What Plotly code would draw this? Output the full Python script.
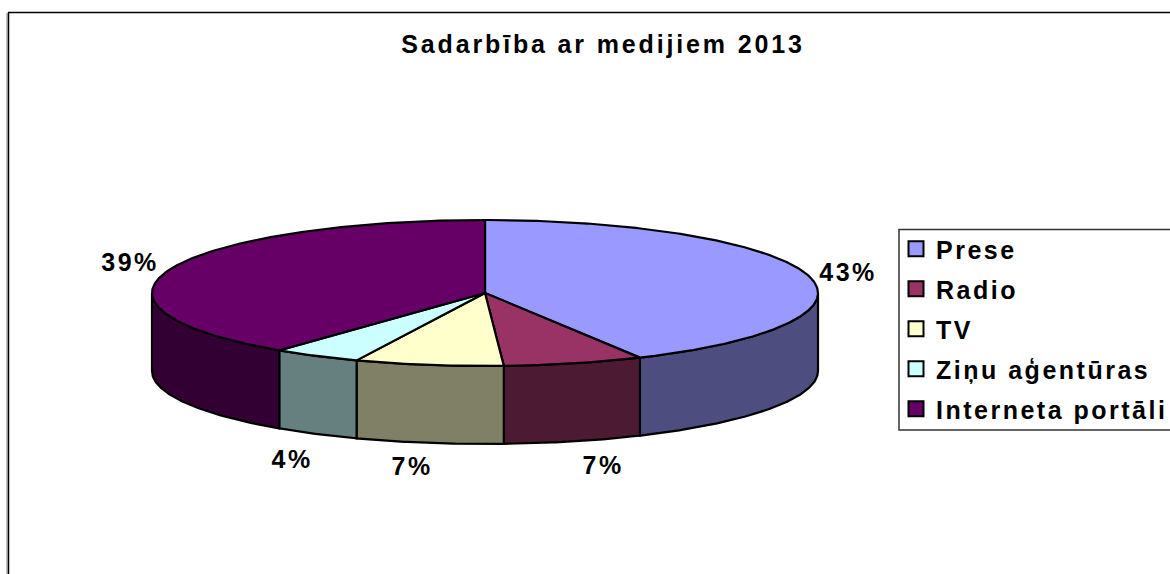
import numpy as np
import plotly.graph_objects as go

categories = ["Prese", "Radio", "TV", "Ziņu aģentūras", "Interneta portāli"]
shares = [42.3, 6.8, 7.2, 4.3, 39.4]
labels = ["43%", "7%", "7%", "4%", "39%"]
top_colors = ["#9999FF", "#993366", "#FFFFCC", "#CCFFFF", "#660066"]
side_colors = ["#4D4D80", "#4D1A33", "#808066", "#668080", "#330033"]
label_pos = [(848, 272), (603, 465), (412, 466), (292, 459), (130, 262)]
title = "Sadarbība ar medijiem 2013"

CX, CY, RX, RY, DEPTH = 485, 293, 333, 73, 78
FONT = "Liberation Sans, Arial, sans-serif"
W, H = 1170, 574


def rim(t0, t1, dy=0):
    t = np.radians(np.linspace(t0, t1, max(int(abs(t1 - t0)) * 2 + 2, 2)))
    return CX + RX * np.sin(t), CY + dy - RY * np.cos(t)


fig = go.Figure()
edges = np.concatenate([[0], np.cumsum(shares)]) / sum(shares) * 360

# side walls (only the front half of the rim is visible)
for i in range(len(categories)):
    a, b = max(edges[i], 90), min(edges[i + 1], 270)
    if b <= a:
        continue
    x0, y0 = rim(a, b)
    x1, y1 = rim(b, a, DEPTH)
    fig.add_trace(go.Scatter(
        x=np.r_[x0, x1, x0[0]], y=np.r_[y0, y1, y0[0]], mode="lines", fill="toself",
        fillcolor=side_colors[i], line=dict(color="black", width=2.2),
        showlegend=False, hoverinfo="skip"))

# top wedges
for i in range(len(categories)):
    x0, y0 = rim(edges[i], edges[i + 1])
    fig.add_trace(go.Scatter(
        x=np.r_[CX, x0, CX], y=np.r_[CY, y0, CY], mode="lines", fill="toself",
        fillcolor=top_colors[i], line=dict(color="black", width=2.2),
        showlegend=False, hoverinfo="skip"))

# legend entries
for i, name in enumerate(categories):
    fig.add_trace(go.Scatter(
        x=[None], y=[None], mode="markers", name=name, legendgroup=name,
        marker=dict(symbol="square", size=15, color=top_colors[i],
                    line=dict(color="black", width=2))))

for text, (x, y) in zip(labels, label_pos):
    fig.add_annotation(x=x, y=y, text=f"<b>{text}</b>", showarrow=False,
                       font=dict(family=FONT, size=25, color="black"))

fig.update_layout(
    width=W, height=H, margin=dict(l=0, r=0, t=0, b=0),
    paper_bgcolor="white", plot_bgcolor="white",
    title=dict(text=f"<b>{title}</b>", x=603 / W, y=1 - 44 / H, xanchor="center",
               yanchor="middle", font=dict(family=FONT, size=25, color="black")),
    xaxis=dict(range=[0, W], visible=False, fixedrange=True),
    yaxis=dict(range=[H, 0], visible=False, fixedrange=True),
    legend=dict(x=896 / W, y=1 - 226 / H, xanchor="left", yanchor="top",
                bgcolor="rgba(0,0,0,0)", borderwidth=0,
                traceorder="grouped", tracegroupgap=4.5,
                itemsizing="trace", itemclick=False, itemdoubleclick=False,
                font=dict(family=FONT, size=25, color="black", weight="bold")),
    shapes=[
        dict(type="line", xref="paper", yref="paper", x0=7 / W, x1=7 / W,
             y0=0, y1=1 - 13 / H, line=dict(color="#888888", width=1)),
        dict(type="line", xref="paper", yref="paper", x0=8.5 / W, x1=8.5 / W,
             y0=0, y1=1 - 12.5 / H, line=dict(color="black", width=1.5)),
        dict(type="line", xref="paper", yref="paper", x0=8 / W, x1=1,
             y0=1 - 12.5 / H, y1=1 - 12.5 / H, line=dict(color="black", width=1.5)),
        dict(type="rect", xref="paper", yref="paper", x0=899 / W, x1=1.01,
             y0=1 - 430 / H, y1=1 - 229.5 / H, fillcolor="white",
             line=dict(color="#333333", width=1.5), layer="below"),
    ],
)
post = """
document.body.style.margin = '0';
document.documentElement.style.overflow = 'hidden';
var st = document.createElement('style');
st.textContent = '.main-svg text { letter-spacing: 2.5px; } .main-svg text.gtitle { letter-spacing: 2.85px; }';
document.head.appendChild(st);
document.querySelectorAll('clipPath[id^="legend"] rect').forEach(function (r) {
  r.setAttribute('width', 300);
});
"""
fig.write_html("out.html", config=dict(displayModeBar=False), post_script=post)
